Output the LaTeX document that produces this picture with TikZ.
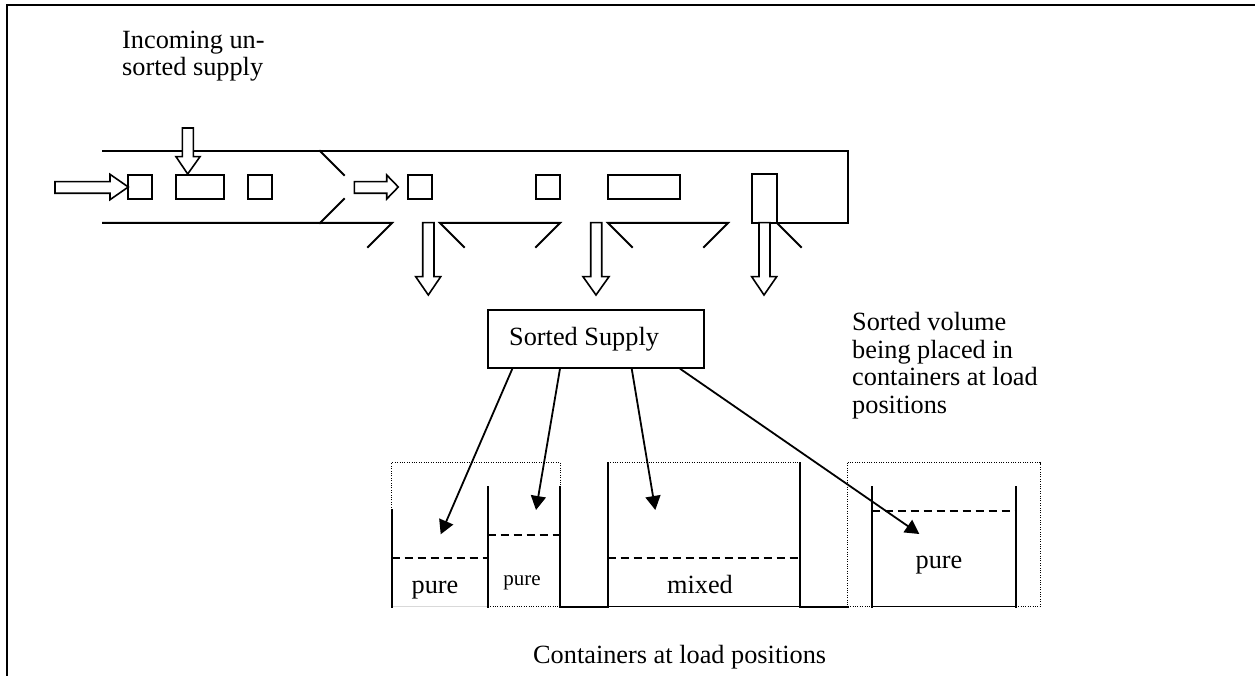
\documentclass[tikz,border=0pt]{standalone}
\usepackage{fontspec}
\setmainfont{Liberation Serif}
\usetikzlibrary{arrows.meta}
\begin{document}
\begin{tikzpicture}[x=1pt,y=-1pt,
  wall/.style={line width=2pt, line cap=rect},
  item/.style={draw, line width=2pt, inner sep=0pt},
  blockarrow/.style={draw, line width=1.6pt, fill=white, line join=miter},
  feed/.style={line width=1.8pt, -{Triangle[length=14pt,width=15pt]}},
  dotline/.style={line width=1pt, dash pattern=on 1pt off 1.4pt},
  level/.style={line width=2pt, dash pattern=on 8pt off 5pt},
  floor/.style={line width=1pt},
  lbl/.style={font=\fontsize{26.3}{27.5}\selectfont, inner sep=0pt, align=left},
  small/.style={font=\fontsize{21}{24}\selectfont, inner sep=0pt}
]
\useasboundingbox (0,0) rectangle (1255,676);
\clip (0,0) rectangle (1255,676);
% frame
\draw[line width=2pt] (7,5) rectangle (1300,720);

% conveyor walls
\draw[wall] (103,151) -- (848,151) -- (848,223) -- (777,223);
\draw[wall] (320,151) -- (344,175);
\draw[wall] (103,223) -- (392,223) -- (368,247);
\draw[wall] (320,223) -- (344,199);
\draw[wall] (464,247) -- (440,223) -- (560,223) -- (536,247);
\draw[wall] (632,247) -- (608,223) -- (728,223) -- (704,247);
\draw[wall] (777,223) -- (801,247);

% items on the conveyor
\node[item, minimum width=24.6pt, minimum height=24pt] (b1) at (140,187) {};
\node[item, minimum width=48.3pt, minimum height=24pt] (b2) at (199.85,187) {};
\node[item, minimum width=24.6pt, minimum height=24pt] (b3) at (260,187) {};
\node[item, minimum width=24.6pt, minimum height=24pt] (b4) at (420,187) {};
\node[item, minimum width=24.6pt, minimum height=24pt] (b5) at (548,187) {};
\node[item, minimum width=72.3pt, minimum height=24pt] (b6) at (643.85,187) {};
\node[item, minimum width=25pt, minimum height=48.4pt] (b7) at (764.2,198.5) {};

% block arrows
\draw[blockarrow] (55,181.7) -- (110,181.7) -- (110,174.3) -- (128.3,187) -- (110,199.7) -- (110,193.3) -- (55,193.3) -- cycle;
\draw[blockarrow] (354.3,181.7) -- (386.7,181.7) -- (386.7,175) -- (398.3,187) -- (386.7,199) -- (386.7,193.3) -- (354.3,193.3) -- cycle;
\draw[blockarrow] (182.3,128) -- (193.3,128) -- (193.3,156.7) -- (200,156.7) -- (187.7,174) -- (176,156.7) -- (182.3,156.7) -- cycle;
\draw[blockarrow] (422.7,222.7) -- (434,222.7) -- (434,276.7) -- (440.7,276.7) -- (428.3,295) -- (415.7,276.7) -- (422.7,276.7) -- cycle;
\draw[blockarrow] (590.7,222.7) -- (601.7,222.7) -- (601.7,276.7) -- (609,276.7) -- (596,295) -- (583,276.7) -- (590.7,276.7) -- cycle;
\draw[blockarrow] (759,222.7) -- (770,222.7) -- (770,276.7) -- (776.7,276.7) -- (764,295) -- (751.7,276.7) -- (759,276.7) -- cycle;

% labels (base anchor = baseline of the last line)
\node[lbl, anchor=base west] (inc) at (122,76) {Incoming un-\\sorted supply};
\node[lbl, anchor=base west] (vol) at (852,413) {Sorted volume\\being placed in\\containers at load\\positions};
\node[lbl, anchor=base west] (cap) at (533,663) {Containers at load positions};

% sorted supply box
\node[draw, line width=2pt, inner sep=0pt, minimum width=216.3pt, minimum height=57.7pt] (ss) at (595.85,338.85) {};
\node[lbl, anchor=base west] (sst) at (509,345.7) {Sorted Supply};

% containers
\draw[dotline] (391.7,510) -- (391.7,462.7) -- (560.3,462.7) -- (560.3,486.7);
\draw[dotline] (607.7,462.7) -- (800,462.7);
\draw[dotline] (847.7,462.7) rectangle (1040,606.7);
\draw[dotline] (487.7,606.7) -- (560.3,606.7);
\draw[floor, black!15] (391.7,606.7) -- (487.7,606.7);
\draw[floor] (607.7,606.7) -- (800,606.7);
\draw[floor] (871.7,606.7) -- (1016,606.7);

\draw[wall] (391.7,510) -- (391.7,606.7);
\draw[wall] (487.7,486.7) -- (487.7,606.7);
\draw[wall] (560.3,486.7) -- (560.3,606.7) -- (607.7,606.7);
\draw[wall] (607.7,462.7) -- (607.7,606.7);
\draw[wall] (800,462.7) -- (800,606.7) -- (848,606.7);
\draw[wall] (871.7,486.7) -- (871.7,606.7);
\draw[wall] (1016,486.7) -- (1016,606.7);

\draw[level] (391.7,558.3) -- (487.7,558.3);
\draw[level] (487.7,535) -- (560.3,535);
\draw[level] (607.7,558.3) -- (800,558.3);
\draw[level] (871.7,510.7) -- (1016,510.7);

\node[lbl, anchor=base] (p1) at (435,593.3) {pure};
\node[small, anchor=base] (p2) at (522,585) {pure};
\node[lbl, anchor=base] (mx) at (700,593) {mixed};
\node[lbl, anchor=base] (p4) at (939,568.3) {pure};

% feed arrows
\coordinate (t1) at (440.7,534.3);
\coordinate (t2) at (536,510);
\coordinate (t3) at (655.3,510);
\coordinate (t4) at (919.3,534);
\draw[feed] ([xshift=-83.5pt]ss.south) -- (t1);
\draw[feed] ([xshift=-35.85pt]ss.south) -- (t2);
\draw[feed] ([xshift=35.85pt]ss.south) -- (t3);
\draw[feed] ([xshift=84.15pt]ss.south) -- (t4);
\end{tikzpicture}
\end{document}
